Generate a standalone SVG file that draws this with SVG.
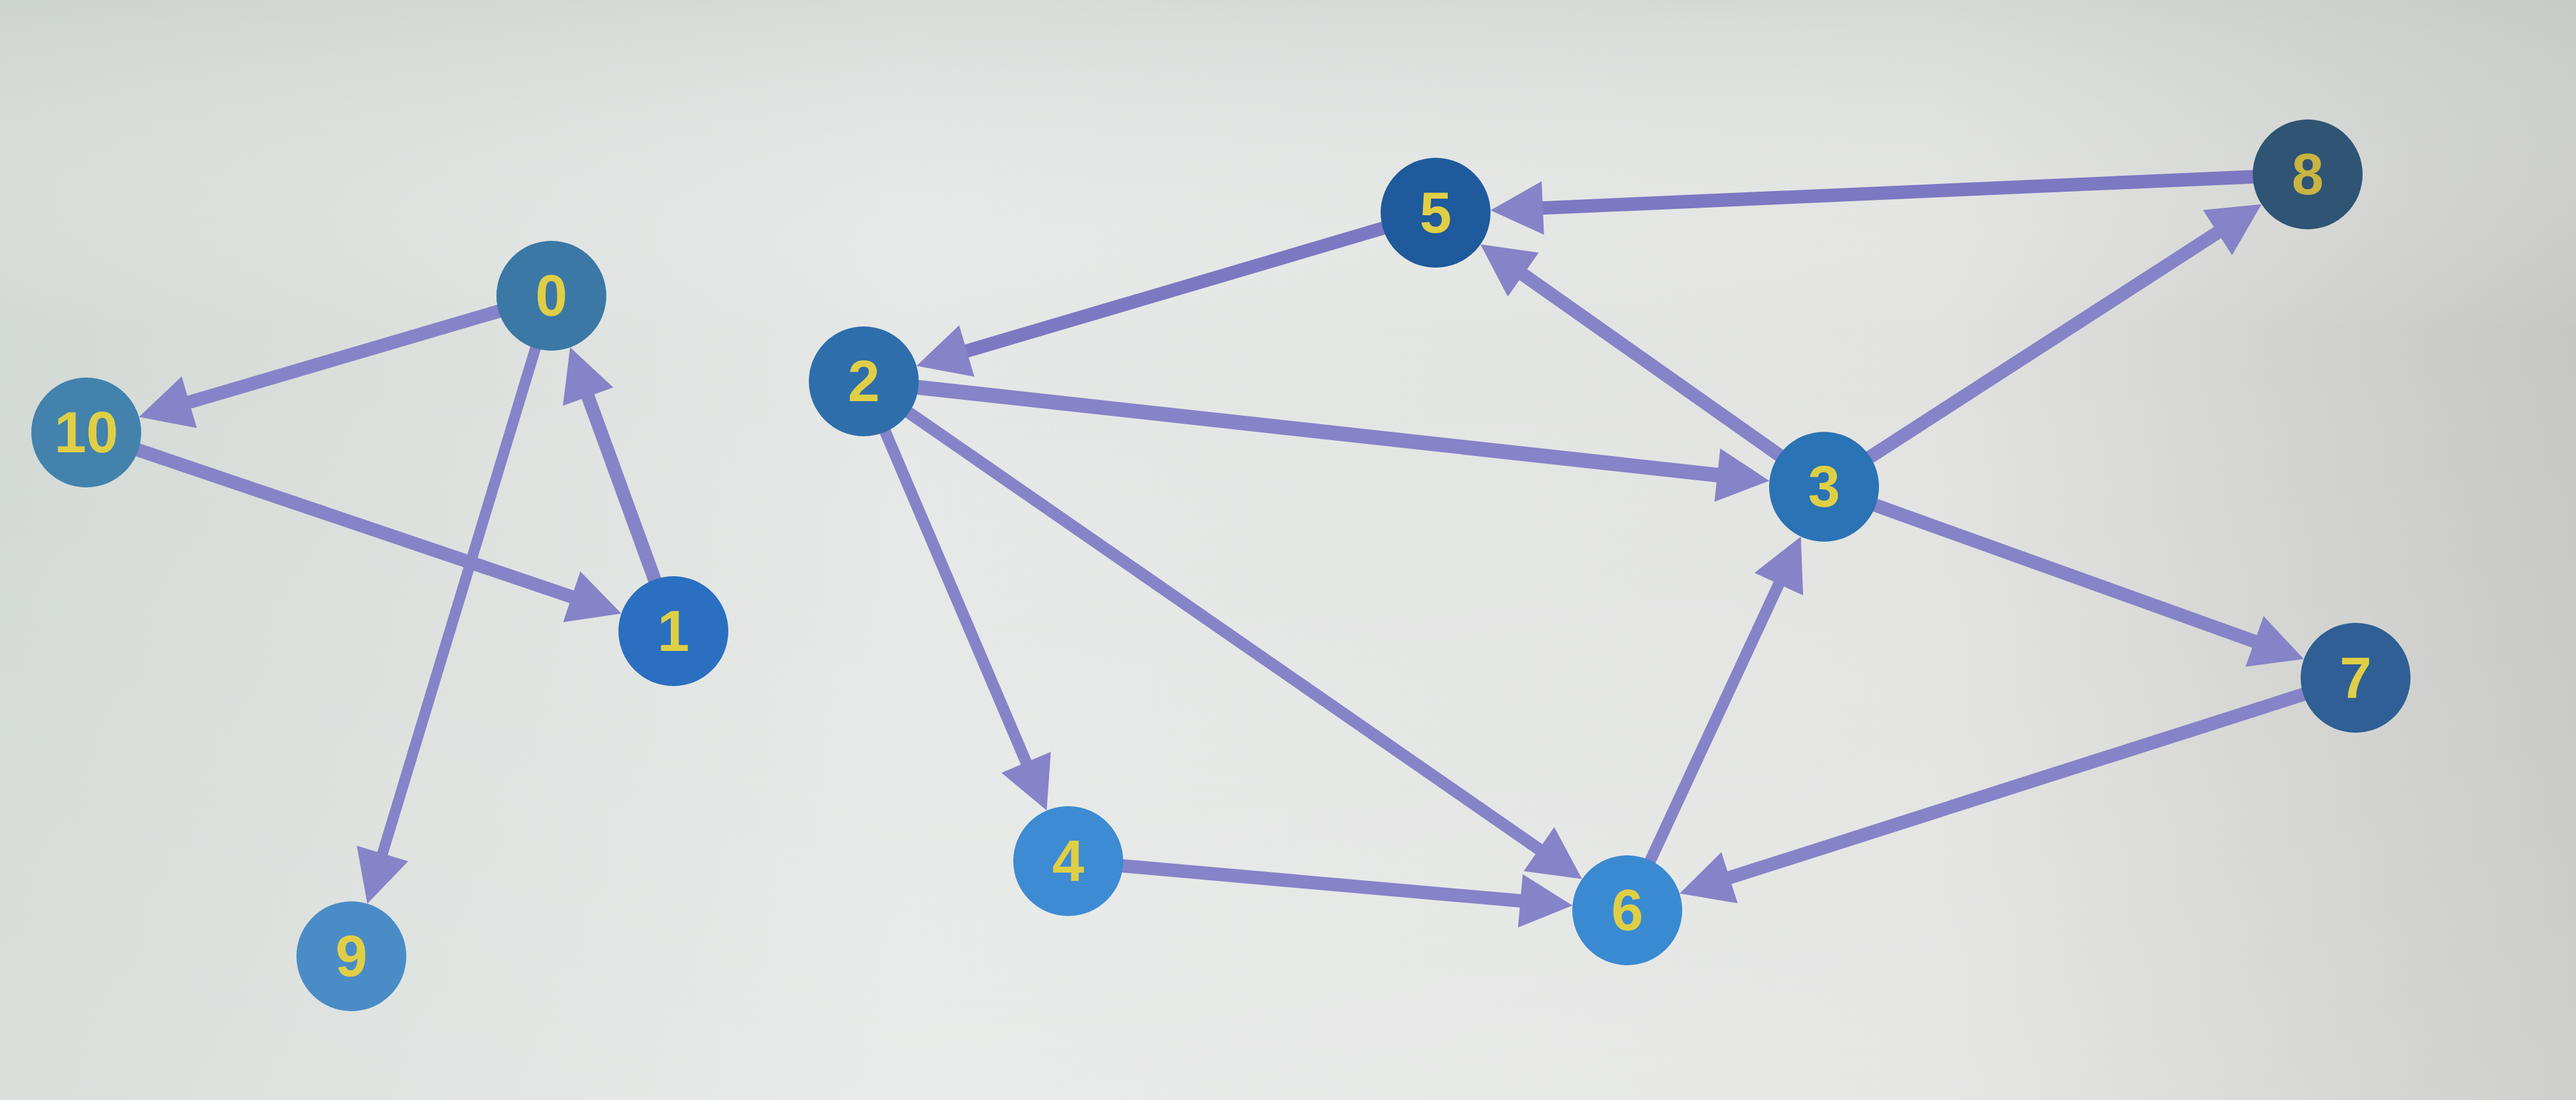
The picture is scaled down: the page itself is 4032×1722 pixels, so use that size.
<svg xmlns="http://www.w3.org/2000/svg" width="4032" height="1722" viewBox="0 0 4032 1722">
  <defs>
    <linearGradient id="bg" x1="0" y1="0" x2="1" y2="0">
      <stop offset="0" stop-color="#d3d9d5"/>
      <stop offset="0.35" stop-color="#e5e8e6"/>
      <stop offset="0.75" stop-color="#e2e3e1"/>
      <stop offset="1" stop-color="#c6c7c3"/>
    </linearGradient>
    <linearGradient id="bgv" x1="0" y1="0" x2="0" y2="1">
      <stop offset="0" stop-color="#c9cfcb" stop-opacity="0.5"/>
      <stop offset="0.3" stop-color="#ffffff" stop-opacity="0"/>
      <stop offset="1" stop-color="#ffffff" stop-opacity="0.15"/>
    </linearGradient>
    <marker id="arrow" markerUnits="userSpaceOnUse" viewBox="-20 -42 82 84" markerWidth="82" markerHeight="84" refX="0" refY="0" orient="auto" overflow="visible">
      <path d="M-20,-42 L62,0 L-20,42 z" fill="#8683c8"/>
    </marker>
    <style>
      .edge { stroke: #8683c8; stroke-width: 21; fill: none; marker-end: url(#arrow); }
      .node circle { stroke: none; }
      .node text { font-family: "Liberation Sans", Arial, sans-serif; font-size: 90px; font-weight: bold; fill: #e0cf45; text-anchor: middle; dominant-baseline: central; }
    </style>
  </defs>

  <rect x="0" y="0" width="4032" height="1722" fill="url(#bg)"/>
  <rect x="0" y="0" width="4032" height="1722" fill="url(#bgv)"/>

  <!-- directed edges: each line runs from the source centre to just before the target's arrow tip -->
  <g id="edges">
    <line class="edge" x1="863" y1="463" x2="277.0" y2="635.3"/>     <!-- 0 -> 10 -->
    <line class="edge" x1="135" y1="677" x2="913.8" y2="940.6"/>     <!-- 10 -> 1 -->
    <line class="edge" x1="1054" y1="988" x2="913.6" y2="602.1"/>    <!-- 1 -> 0 -->
    <line class="edge" x1="863" y1="463" x2="592.9" y2="1355.3" style="stroke-width:17"/>   <!-- 0 -> 9 -->
    <line class="edge" x1="2247" y1="333" x2="1494.0" y2="555.1" style="stroke:#7c78c2"/>   <!-- 5 -> 2 -->
    <line class="edge" x1="3612" y1="273" x2="2394.9" y2="326.5" style="stroke:#7c78c2"/>   <!-- 8 -> 5 -->
    <line class="edge" x1="2855" y1="762" x2="2367.9" y2="418.3"/>   <!-- 3 -> 5 -->
    <line class="edge" x1="1352" y1="597" x2="2707.9" y2="745.9" style="stroke-width:23"/>  <!-- 2 -> 3 -->
    <line class="edge" x1="2855" y1="762" x2="3487.7" y2="353.3"/>   <!-- 3 -> 8 -->
    <line class="edge" x1="2855" y1="762" x2="3547.7" y2="1010.9"/>  <!-- 3 -> 7 -->
    <line class="edge" x1="1352" y1="597" x2="1614.0" y2="1211.8" style="stroke-width:18"/> <!-- 2 -> 4 -->
    <line class="edge" x1="1352" y1="597" x2="2425.3" y2="1340.7" style="stroke-width:19"/> <!-- 2 -> 6 -->
    <line class="edge" x1="1672" y1="1348" x2="2399.6" y2="1412.0"/> <!-- 4 -> 6 -->
    <line class="edge" x1="2547" y1="1425" x2="2792.6" y2="896.2" style="stroke-width:18"/> <!-- 6 -> 3 -->
    <line class="edge" x1="3687" y1="1061" x2="2688.0" y2="1380.0"/> <!-- 7 -> 6 -->
  </g>

  <g id="node-0" class="node"><circle cx="863" cy="463" r="86" fill="#3b78a6"/><text x="863" y="463">0</text></g>
  <g id="node-1" class="node"><circle cx="1054" cy="988" r="86" fill="#2a6fc0"/><text x="1054" y="988">1</text></g>
  <g id="node-2" class="node"><circle cx="1352" cy="597" r="86" fill="#2e6eab"/><text x="1352" y="597">2</text></g>
  <g id="node-3" class="node"><circle cx="2855" cy="762" r="86" fill="#2a73b4"/><text x="2855" y="762">3</text></g>
  <g id="node-4" class="node"><circle cx="1672" cy="1348" r="86" fill="#3d8bd2"/><text x="1672" y="1348">4</text></g>
  <g id="node-5" class="node"><circle cx="2247" cy="333" r="86" fill="#1f5a9c"/><text x="2247" y="333">5</text></g>
  <g id="node-6" class="node"><circle cx="2547" cy="1425" r="86" fill="#3a8ad2"/><text x="2547" y="1425">6</text></g>
  <g id="node-7" class="node"><circle cx="3687" cy="1061" r="86" fill="#2f5f94"/><text x="3687" y="1061">7</text></g>
  <g id="node-8" class="node"><circle cx="3612" cy="273" r="86" fill="#2f5474"/><text x="3612" y="273" style="fill:#c9b442">8</text></g>
  <g id="node-9" class="node"><circle cx="550" cy="1497" r="86" fill="#4a8cc6"/><text x="550" y="1497">9</text></g>
  <g id="node-10" class="node"><circle cx="135" cy="677" r="86" fill="#4282ad"/><text x="135" y="677">10</text></g>
</svg>
